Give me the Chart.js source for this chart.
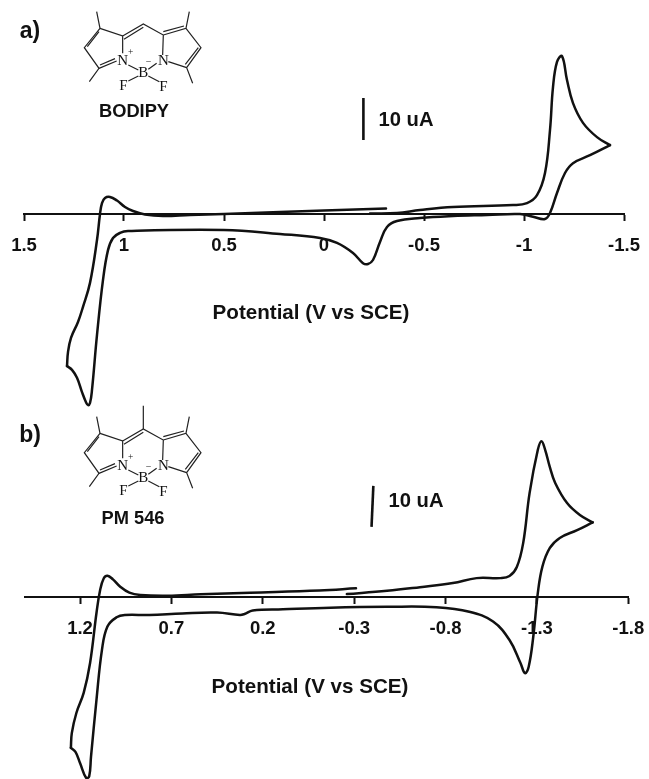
<!DOCTYPE html>
<html>
<head>
<meta charset="utf-8">
<title>Cyclic voltammograms</title>
<script src="https://cdn.jsdelivr.net/npm/chart.js@4/dist/chart.umd.min.js"></script>
<style>
    html, body { margin: 0; padding: 0; background: #fff; }
    #page { position: relative; width: 649px; height: 779px; overflow: hidden; font-family: "Liberation Sans", Arial, sans-serif; color: #111; }
    /* canvases overhang the window by 20px each side, edge tick labels eat into the layout padding otherwise */
    canvas { position: absolute; left: -20px; }
    #mol-a, #mol-b { position: absolute; left: 0; width: 330px; height: 110px; overflow: visible; }
    .lbl { position: absolute; font-weight: bold; white-space: nowrap; line-height: 1; transform: translate(-50%, -50%); }
    .axis-title { font-size: 20.6px; }
    .bar-lbl { font-size: 20.2px; }
    .mol-name { font-size: 18.3px; }
    .panel { font-size: 23px; }
</style>
</head>
<body>
<div id="page">
    <canvas id="chart-a" width="689" height="410" style="top:0"></canvas>
    <canvas id="chart-b" width="689" height="369" style="top:410px"></canvas>

    <svg id="mol-a" style="top:0" viewBox="0 0 330 110"></svg>
    <svg id="mol-b" style="top:405px" viewBox="0 0 330 110"></svg>

    <div class="lbl panel" style="left:30px;top:30px">a)</div>
    <div class="lbl mol-name" style="left:134px;top:111px">BODIPY</div>
    <div class="lbl bar-lbl" style="left:406px;top:119px">10 uA</div>
    <div class="lbl axis-title" style="left:311px;top:312px">Potential (V vs SCE)</div>

    <div class="lbl panel" style="left:30px;top:434px">b)</div>
    <div class="lbl mol-name" style="left:133px;top:518px">PM 546</div>
    <div class="lbl bar-lbl" style="left:416px;top:500px">10 uA</div>
    <div class="lbl axis-title" style="left:310px;top:686px">Potential (V vs SCE)</div>
</div>

<script>
// panel a: potential (V) and current (uA), in scan order
const potentialA = [
    -0.31, 0, 0.22, 0.5, 0.67, 0.805, 0.895, 0.955, 0.995, 1.035, 1.07, 1.095, 1.11, 1.12,
    1.135, 1.17, 1.205, 1.23, 1.265, 1.28, 1.285, 1.26, 1.235, 1.21, 1.19, 1.18, 1.17, 1.16,
    1.135, 1.105, 1.08, 1.055, 1.02, 0.98, 0.5, 0.22, 0.02, -0.065, -0.145, -0.195, -0.22,
    -0.245, -0.28, -0.315, -0.365, -0.48, -0.645, -0.815, -0.98, -1.045, -1.105, -1.13,
    -1.165, -1.205, -1.245, -1.33, -1.43, -1.365, -1.295, -1.245, -1.215, -1.19, -1.165,
    -1.145, -1.13, -1.105, -1.065, -1.015, -0.945, -0.645, -0.48, -0.365, -0.23
];
const currentA = [
    1.3, 0.83, 0.48, 0, -0.24, -0.48, -0.12, 0.71, 1.67, 3.2, 4.05, 3.8, 2.6, 0,
    -6.2, -16.4, -22.1, -25.7, -29.5, -32.9, -36.2, -37.1, -39, -42.4, -44.8, -45.5, -45, -41.9,
    -28.8, -15.7, -8.6, -5.7, -4.5, -4.05, -3.8, -4.76, -5.7, -6.9, -9.3, -11.7, -11.9,
    -10.95, -6.67, -3.1, -1.67, -0.95, -0.48, -0.24, 0, -0.64, -1.2, 0.24,
    5, 9.76, 12.1, 14, 16.4, 18.3, 21.7, 26.4, 31.9, 37.6, 36.2,
    30.2, 20, 9.76, 4.5, 2.6, 2.14, 1.67, 0.95, 0.24, 0.12
];

// panel b
const potentialB = [
    -0.31, -0.11, 0.27, 0.54, 0.72, 0.87, 0.93, 0.98, 1.02, 1.05, 1.07, 1.09, 1.11, 1.145,
    1.18, 1.22, 1.245, 1.25, 1.225, 1.2, 1.167, 1.15, 1.14, 1.11, 1.08, 1.05, 1.0, 0.955,
    0.82, 0.64, 0.45, 0.325, 0.3, 0.255, 0.09, -0.17, -0.48, -0.75, -0.93, -1.06, -1.15,
    -1.21, -1.235, -1.255, -1.28, -1.305, -1.33, -1.37, -1.425, -1.52, -1.605, -1.535,
    -1.465, -1.4, -1.37, -1.345, -1.325, -1.305, -1.26, -1.225, -1.19, -1.15, -1.1, -0.97,
    -0.84, -0.66, -0.48, -0.26
];
const currentB = [
    2.12, 1.6, 1.05, 0.66, 0.32, 0.49, 1.05, 2.5, 4.3, 5.2, 4.56, 1.7, -3.9, -16.1,
    -23.4, -28.3, -33.2, -36.8, -37.8, -40.5, -44.1, -43.8, -39, -25.1, -12.9, -7.2, -4.95, -4.4,
    -4.4, -4, -3.8, -4.4, -4.15, -3.3, -3, -2.6, -2.4, -2.5, -3.6, -6, -10.5,
    -16.1, -18.6, -17, -9.7, 1, 7.4, 11.9, 14.4, 16.3, 18.2, 20,
    22.9, 27.8, 31.8, 35.9, 38, 35.9, 25.4, 13.2, 7.3, 5.1, 4.6, 4.6,
    3.4, 2.4, 1.5, 0.7
];

const ticksA = [1.5, 1, 0.5, 0, -0.5, -1, -1.5];
const ticksB = [1.2, 0.7, 0.2, -0.3, -0.8, -1.3, -1.8];

// 10 uA scale bars
const scaleBarA = [{ x: -0.197, y: 27.6 }, { x: -0.197, y: 17.6 }];
const scaleBarB = [{ x: -0.405, y: 27.1 }, { x: -0.395, y: 17.1 }];

// sharp turning points of the scan, the curve is smoothed between them
const vertexA = [1.285, -1.43];
const vertexB = [1.25, -1.605];

const INK = '#111';

function xy(xs, ys) {
    return xs.map((x, i) => ({ x, y: ys[i] }));
}

function splitAt(points, vertices) {
    const parts = [[]];
    points.forEach(p => {
        parts[parts.length - 1].push(p);
        if (vertices.includes(p.x)) parts.push([p]);
    });
    return parts;
}

function drawCV(id, trace, vertices, bar, ticks, range, padding) {
    const pieces = splitAt(trace, vertices).map(data => ({
        data, showLine: true, tension: 0.4, borderColor: INK, borderWidth: 2.5,
        borderJoinStyle: 'round', borderCapStyle: 'round', pointRadius: 0, clip: false
    }));
    new Chart(document.getElementById(id), {
        type: 'scatter',
        data: {
            datasets: [
                ...pieces,
                { data: bar, showLine: true, borderColor: INK, borderWidth: 2.6, pointRadius: 0 }
            ]
        },
        options: {
            responsive: false,
            animation: false,
            layout: { padding },
            plugins: { legend: { display: false }, tooltip: { enabled: false } },
            scales: {
                x: {
                    type: 'linear',
                    position: { y: 0 },
                    reverse: true,
                    min: range.xMin,
                    max: range.xMax,
                    afterBuildTicks: axis => { axis.ticks = ticks.map(value => ({ value })); },
                    border: { color: INK, width: 2 },
                    grid: { drawOnChartArea: false, drawTicks: true, tickLength: 6, tickWidth: 2, tickColor: INK },
                    ticks: {
                        autoSkip: false,
                        maxRotation: 0,
                        padding: 15,
                        color: INK,
                        font: { family: '"Liberation Sans"', size: 18.5, weight: 'bold' },
                        callback: v => String(v)
                    }
                },
                y: { display: false, min: range.yMin, max: range.yMax }
            }
        }
    });
}

drawCV('chart-a', xy(potentialA, currentA), vertexA, scaleBarA, ticksA,
    { xMin: -1.5, xMax: 1.5, yMin: -46, yMax: 42 },
    { left: 44, right: 45, top: 37.6, bottom: 2.8 });

drawCV('chart-b', xy(potentialB, currentB), vertexB, scaleBarB, ticksB,
    { xMin: -1.8, xMax: 1.5, yMin: -44.4, yMax: 40 },
    { left: 45.2, right: 40.7, top: 23, bottom: 0 });

// structure sketch, same skeleton in both panels (units are 1/3 px)
const MOL = `
<g transform="scale(0.3333)" fill="none" stroke="#222" stroke-width="3.6">
  <path d="M290 35L300 85L253 143L297 205L268 245"/>
  <path d="M300 85L368 108L368 160M368 108L430 72L490 105L488 165M490 105L558 85L568 35M558 85L603 143L560 203L578 250M560 203L505 185"/>
  <path d="M297 205L350 183M300 195L345 176M297 95L262 140M372 118L430 82M490 95L552 78M595 143L556 193"/>
  <path d="M385 195L415 210M470 190L445 208M415 228L385 243M445 228L478 245"/>
</g>
<g transform="scale(0.3333)" font-family="Liberation Serif" font-size="45" fill="#111" text-anchor="middle">
  <text x="368" y="196">N</text><text x="490" y="196">N</text>
  <text x="430" y="231">B</text><text x="370" y="270">F</text><text x="490" y="273">F</text>
  <text x="392" y="165" font-size="28">+</text><text x="446" y="196" font-size="30">−</text>
</g>`;
document.getElementById('mol-a').innerHTML = MOL;
document.getElementById('mol-b').innerHTML = MOL +
    '<g transform="scale(0.3333)" fill="none" stroke="#222" stroke-width="3.6"><path d="M430 72L430 2"/></g>';
</script>
</body>
</html>
